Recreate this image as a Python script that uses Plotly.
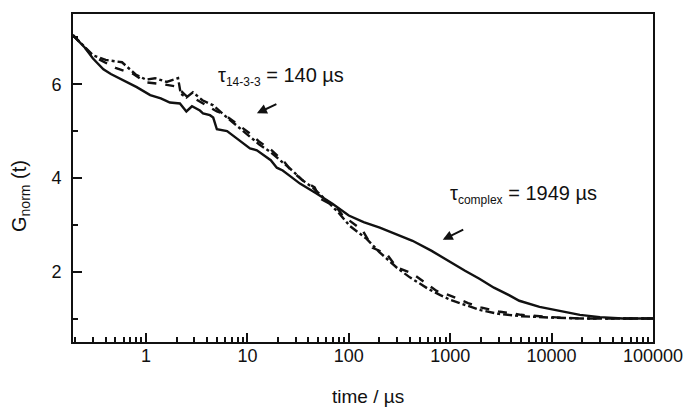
import numpy as np
import plotly.graph_objects as go

# ---- data ----
t_complex = [0.19, 0.25, 0.3, 0.38, 0.45, 0.59, 0.81, 1.1, 1.4, 1.72, 2.16, 2.5, 2.84, 3.4, 3.65,
             4.27, 4.6, 5.0, 6.3, 7.9, 10.6, 12.4, 15.5, 17, 19.5, 22.3, 26, 33, 48, 69, 100, 140,
             202, 300, 425, 650, 920, 1400, 1940, 2700, 3800, 4800, 7600, 12000, 19000, 30000,
             50000, 100000]
g_complex = [7.05, 6.78, 6.55, 6.32, 6.22, 6.09, 5.94, 5.77, 5.7, 5.61, 5.59, 5.42, 5.53, 5.44, 5.38,
             5.34, 5.29, 5.04, 5.0, 4.84, 4.63, 4.59, 4.44, 4.38, 4.22, 4.16, 4.05, 3.88, 3.67, 3.45,
             3.2, 3.06, 2.94, 2.8, 2.66, 2.45, 2.25, 2.02, 1.85, 1.66, 1.5, 1.38, 1.25, 1.16, 1.08,
             1.03, 1.0, 1.0]

t_dash = [0.19, 0.3, 0.5, 0.75, 1, 1.5, 2, 2.5, 3, 4, 5, 5.7, 8, 10.6, 13, 17.4, 23.4, 27, 35, 46,
          52, 76, 87, 137, 172, 236, 297, 425, 735, 1000, 1500, 2000, 3000, 5000, 10000, 20000,
          50000, 100000]
g_dash = [7.05, 6.6, 6.35, 6.22, 6.04, 6.0, 5.95, 5.75, 5.7, 5.55, 5.42, 5.38, 5.15, 4.95, 4.78,
          4.59, 4.33, 4.16, 3.95, 3.8, 3.56, 3.37, 3.2, 2.88, 2.51, 2.38, 2.09, 1.96, 1.59, 1.49,
          1.33, 1.24, 1.15, 1.08, 1.03, 1.0, 1.0, 1.0]

t_dashdot = [0.19, 0.3, 0.4, 0.58, 0.8, 1, 1.23, 1.6, 2.07, 2.2, 2.5, 2.9, 3.6, 4.6, 6.3, 8, 10,
             13, 17, 22, 28, 35, 45, 60, 80, 102, 150, 200, 300, 400, 600, 800, 1000, 1500, 2000,
             3000, 5000, 10000, 20000, 50000, 100000]
g_dashdot = [7.05, 6.62, 6.52, 6.47, 6.2, 6.1, 6.13, 6.05, 6.13, 5.8, 5.72, 5.83, 5.66, 5.55, 5.29,
             5.1, 4.92, 4.72, 4.55, 4.35, 4.15, 3.95, 3.78, 3.52, 3.25, 2.98, 2.7, 2.42, 2.08, 1.88,
             1.64, 1.5, 1.4, 1.27, 1.18, 1.1, 1.05, 1.02, 1.0, 1.0, 1.0]

x_ticks = [1, 10, 100, 1000, 10000, 100000]
y_ticks = [2, 4, 6]

FONT = "Liberation Sans, Arial, sans-serif"
INK = "#111111"

L, R, T, B = 73, 33, 14, 66
W, H = 686, 408
PW, PH = W - L - R, H - T - B

fig = go.Figure()
fig.add_trace(go.Scatter(x=t_complex, y=g_complex, mode="lines",
                         line=dict(color=INK, width=2.4), name="complex"))
fig.add_trace(go.Scatter(x=t_dash, y=g_dash, mode="lines",
                         line=dict(color=INK, width=2.4, dash="dash"), name="14-3-3"))
fig.add_trace(go.Scatter(x=t_dashdot, y=g_dashdot, mode="lines",
                         line=dict(color=INK, width=2.4, dash="dashdot"), name="14-3-3 b"))

fig.update_layout(
    width=W, height=H,
    margin=dict(l=L, r=R, t=T, b=B, autoexpand=False),
    paper_bgcolor="white", plot_bgcolor="white",
    showlegend=False,
    font=dict(family=FONT, color=INK, size=18),
)

fig.update_xaxes(
    type="log", range=[-0.72, 5.0],
    tickvals=x_ticks, tickformat="d",
    ticks="inside", ticklen=9, tickwidth=1.5, tickcolor=INK,
    minor=dict(dtick="D1", ticks="inside", ticklen=5, tickwidth=1.5, tickcolor=INK),
    showline=True, linewidth=2, linecolor=INK, mirror=True,
    showgrid=False, zeroline=False, automargin=False,
    tickfont=dict(size=18), ticklabelstandoff=-4,
)
fig.update_yaxes(
    range=[0.5, 7.5],
    tickvals=y_ticks,
    ticks="inside", ticklen=9, tickwidth=1.5, tickcolor=INK,
    minor=dict(dtick=1, tick0=0, ticks="inside", ticklen=5, tickwidth=1.5, tickcolor=INK),
    showline=True, linewidth=2, linecolor=INK, mirror=True,
    showgrid=False, zeroline=False, automargin=False,
    tickfont=dict(size=18), ticklabelstandoff=6,
)

# axis titles
fig.add_annotation(xref="paper", yref="paper", x=(368 - L) / PW, y=(H - B - 396) / PH,
                   text="time / µs", showarrow=False,
                   font=dict(size=19, family=FONT, color=INK), xanchor="center", yanchor="middle")
fig.add_annotation(xref="paper", yref="paper", x=(20 - L) / PW, y=(H - B - 196) / PH,
                   text="G<sub>norm</sub> (t)", textangle=-90, showarrow=False,
                   font=dict(size=20, family=FONT, color=INK), xanchor="center", yanchor="middle")

# labels
SUB = '<sub><span style="font-size:12px">%s</span></sub>'
fig.add_annotation(x=np.log10(4.9), y=6.17, xanchor="left", yanchor="middle",
                   text="τ" + SUB % "14-3-3" + " = 140 µs", showarrow=False,
                   font=dict(size=20, family=FONT, color=INK))
fig.add_annotation(x=np.log10(950), y=3.64, xanchor="left", yanchor="middle",
                   text="τ" + SUB % "complex" + " = 1949 µs", showarrow=False,
                   font=dict(size=20, family=FONT, color=INK))

# arrows
fig.add_annotation(x=np.log10(12.4), y=5.38, ax=21, ay=-10, text="", showarrow=True,
                   arrowhead=2, arrowsize=1, arrowwidth=2, arrowcolor=INK)
fig.add_annotation(x=np.log10(844), y=2.68, ax=22, ay=-11, text="", showarrow=True,
                   arrowhead=2, arrowsize=1, arrowwidth=2, arrowcolor=INK)

fig.write_html("out.html", config={"displayModeBar": False},
               post_script="document.body.style.margin='0';document.body.style.overflow='hidden';")
